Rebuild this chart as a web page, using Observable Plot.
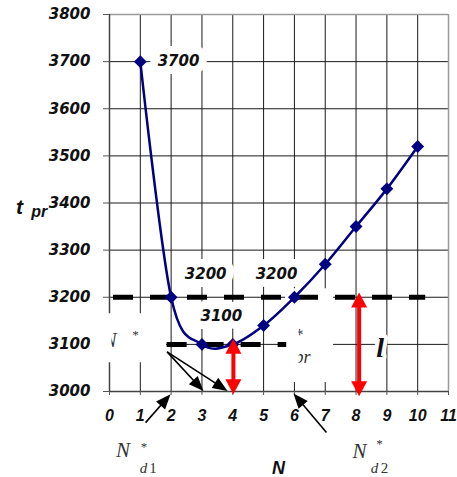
<!DOCTYPE html>
<html><head><meta charset="utf-8">
<script src="https://cdn.jsdelivr.net/npm/d3@7"></script>
<script src="https://cdn.jsdelivr.net/npm/@observablehq/plot@0.6"></script>
<style>html,body{margin:0;padding:0;background:#fff}#chart svg{display:block}</style>
</head><body><div id="chart"></div>
<script>
// ---- data ----
const nValues = [1, 2, 3, 4, 5, 6, 7, 8, 9, 10];
const tprValues = [3700, 3200, 3100, 3100, 3140, 3200, 3270, 3350, 3430, 3520];
const xTicks = [0, 1, 2, 3, 4, 5, 6, 7, 8, 9, 10, 11];
const yTicks = [3000, 3100, 3200, 3300, 3400, 3500, 3600, 3700, 3800];
const pointLabels = [
  {x: 2.24, y: 3700, text: "3700"},
  {x: 3.12, y: 3250, text: "3200"},
  {x: 5.42, y: 3250, text: "3200"},
  {x: 3.63, y: 3160, text: "3100"}
];
const dashedLevels = [
  {y: 3200, x1: 0.13, x2: 10.26},
  {y: 3100, x1: 1.87, x2: 5.75}
];
const blackArrows = [
  {x1: 1.87, y1: 3084, x2: 3.05, y2: 3001},
  {x1: 1.87, y1: 3084, x2: 3.83, y2: 3001},
  {x1: 1.17, y1: 2934, x2: 1.98, y2: 2994},
  {x1: 7.04, y1: 2913, x2: 5.97, y2: 2996}
];
const redArrows = [
  {x: 4.02, y1: 3112, y2: 2994},
  {x: 8.10, y1: 3210, y2: 2990}
];
const whiteBoxes = [
  {x1: -0.29, x2: 1.85, y1: 3061, y2: 3165},
  {x1: 5.71, x2: 7.27, y1: 3019, y2: 3218}
];
const coverBoxes = [
  {x1: -0.45, x2: 0.08, y1: 3070, y2: 3150},
  {x1: 5.74, x2: 6.15, y1: 3034, y2: 3155}
];

// ---- layout ----
const W = 457, H = 477, ML = 109, MR = 9, MT = 14, MB = 86;
const xDomain = [0, 11], yDomain = [3000, 3800];
const sx = Plot.scale({x: {domain: xDomain, range: [ML, W - MR]}});
const sy = Plot.scale({y: {domain: yDomain, range: [H - MB, MT]}});

function angle(x1, y1, x2, y2) {
  const vx = sx.apply(x2) - sx.apply(x1), vy = sy.apply(y2) - sy.apply(y1);
  return Math.atan2(vx, -vy) * 180 / Math.PI;
}
function shorten(x1, y1, x2, y2, px) {
  const X1 = sx.apply(x1), Y1 = sy.apply(y1), X2 = sx.apply(x2), Y2 = sy.apply(y2);
  const L = Math.hypot(X2 - X1, Y2 - Y1), t = (L - px) / L;
  return [sx.invert(X1 + (X2 - X1) * t), sy.invert(Y1 + (Y2 - Y1) * t)];
}

const blackShafts = blackArrows.map(a => {
  const [ex, ey] = shorten(a.x1, a.y1, a.x2, a.y2, 8);
  return {x1: a.x1, y1: a.y1, x2: ex, y2: ey};
});
const blackHeads = blackArrows.map(a => ({x: a.x2, y: a.y2, rot: angle(a.x1, a.y1, a.x2, a.y2)}));
const redShafts = redArrows.map(a => {
  const [, ty] = shorten(a.x, a.y2, a.x, a.y1, 10);
  const [, by] = shorten(a.x, a.y1, a.x, a.y2, 10);
  return {x: a.x, y1: ty, y2: by};
});
const redHeads = redArrows.flatMap(a => [
  {x: a.x, y: a.y1, rot: 0},
  {x: a.x, y: a.y2, rot: 180}
]);

const blackHead = {draw(ctx) { ctx.moveTo(0, 0); ctx.lineTo(-6, 15); ctx.lineTo(6, 15); ctx.closePath(); }};
const redHead = {draw(ctx) { ctx.moveTo(0, 0); ctx.lineTo(-8, 15); ctx.lineTo(8, 15); ctx.closePath(); }};

const data = nValues.map((n, i) => ({n, t: tprValues[i]}));
const sans = "Liberation Sans, Arial, sans-serif";
const dejavu = "DejaVu Sans, sans-serif";
const serif = "Liberation Serif, Times New Roman, serif";

const chart = Plot.plot({
  width: W, height: H,
  marginLeft: ML, marginRight: MR, marginTop: MT, marginBottom: MB,
  x: {domain: xDomain},
  y: {domain: yDomain},
  style: {background: "white", overflow: "visible"},
  marks: [
    // grid
    Plot.ruleX(xTicks.slice(1, 11), {stroke: "#1a1a1a", strokeWidth: 1}),
    Plot.ruleY(yTicks.slice(1, 8), {stroke: "#1a1a1a", strokeWidth: 1}),
    Plot.ruleY([3800], {stroke: "#9a9a9a", strokeWidth: 1.5}),
    Plot.ruleX([11], {stroke: "#9a9a9a", strokeWidth: 1.5}),
    Plot.ruleX([0], {stroke: "#444", strokeWidth: 1.5}),
    Plot.ruleY([3000], {stroke: "#444", strokeWidth: 1.5}),
    // axes
    Plot.axisY(yTicks, {tickSize: 6, tickPadding: 13, fontSize: 15, fontFamily: dejavu,
      fontWeight: "bold", fontStyle: "italic", color: "#111", stroke: "#555", label: null, tickFormat: d => String(d)}),
    Plot.axisX(xTicks, {tickSize: 4, tickPadding: 14, fontSize: 16, fontFamily: sans,
      fontWeight: "bold", fontStyle: "italic", color: "#111", stroke: "#555", label: null, tickFormat: d => String(d)}),
    // white text boxes
    Plot.rect(whiteBoxes, {x1: "x1", x2: "x2", y1: "y1", y2: "y2", fill: "white"}),
    Plot.text(["N"], {x: -0.2, y: 3108, textAnchor: "start", fontFamily: serif, fontStyle: "italic", fontSize: 20, fill: "#333"}),
    Plot.text(["*"], {x: 0.84, y: 3121, fontFamily: serif, fontSize: 13, fill: "#333"}),
    Plot.text(["*"], {x: 6.165, y: 3121, fontFamily: serif, fontSize: 16, fill: "#333"}),
    Plot.text(["pr"], {x: 6.0, y: 3072, textAnchor: "start", fontFamily: serif, fontStyle: "italic", fontSize: 18, fill: "#333"}),
    Plot.rect(coverBoxes, {x1: "x1", x2: "x2", y1: "y1", y2: "y2", fill: "white"}),
    // point labels with white background
    Plot.text(pointLabels, {x: "x", y: "y", text: "text", fontSize: 15, fontFamily: dejavu,
      fontWeight: "bold", fontStyle: "italic", fill: "#111", stroke: "white", strokeWidth: 16,
      strokeLinejoin: "round", paintOrder: "stroke"}),
    // dashed levels
    Plot.ruleY(dashedLevels, {y: "y", x1: "x1", x2: "x2", stroke: "black", strokeWidth: 5,
      strokeDasharray: "20,17"}),
    // curve
    Plot.line(data, {x: "n", y: "t", curve: "cardinal", stroke: "#000080", strokeWidth: 2.5}),
    Plot.dot(data, {x: "n", y: "t", symbol: "diamond2", r: 5.8, fill: "#000080", stroke: "none"}),
    // black arrows
    Plot.link(blackShafts, {x1: "x1", y1: "y1", x2: "x2", y2: "y2", stroke: "black", strokeWidth: 1.6}),
    Plot.dot(blackHeads, {x: "x", y: "y", rotate: "rot", symbol: blackHead, fill: "black", stroke: "none"}),
    // red arrows
    Plot.link(redShafts, {x1: "x", x2: "x", y1: "y1", y2: "y2", stroke: "#ff0000", strokeWidth: 4}),
    Plot.dot(redHeads, {x: "x", y: "y", rotate: "rot", symbol: redHead, fill: "#ff0000", stroke: "none"}),
    // l
    Plot.text(["l"], {x: 8.78, y: 3092, fontFamily: serif, fontStyle: "italic", fontWeight: "bold", fontSize: 28, fill: "#111",
      stroke: "white", strokeWidth: 8, paintOrder: "stroke"}),
    // axis titles
    Plot.text(["t"], {x: -2.92, y: 3392, fontFamily: sans, fontWeight: "bold", fontStyle: "italic", fontSize: 21, fill: "#111"}),
    Plot.text(["pr"], {x: -2.28, y: 3381, fontFamily: sans, fontWeight: "bold", fontStyle: "italic", fontSize: 16, fill: "#111"}),
    Plot.text(["N"], {x: 5.48, y: 2837, fontFamily: sans, fontWeight: "bold", fontStyle: "italic", fontSize: 18, fill: "#111"}),
    // N*d1, N*d2
    Plot.text(["N", "N"], {x: [0.44, 8.11], y: [2875, 2873], fontFamily: serif, fontStyle: "italic", fontSize: 21, fill: "#333"}),
    Plot.text(["*", "*"], {x: [1.12, 8.76], y: [2882, 2889], fontFamily: serif, fontSize: 13, fill: "#333"}),
    Plot.text(["d", "d"], {x: [1.10, 8.60], y: [2837, 2837], fontFamily: serif, fontStyle: "italic", fontSize: 15, fill: "#333"}),
    Plot.text(["1", "2"], {x: [1.41, 8.92], y: [2837, 2837], fontFamily: serif, fontSize: 15, fill: "#333"})
  ]
});
document.getElementById("chart").appendChild(chart);
</script>
</body></html>
